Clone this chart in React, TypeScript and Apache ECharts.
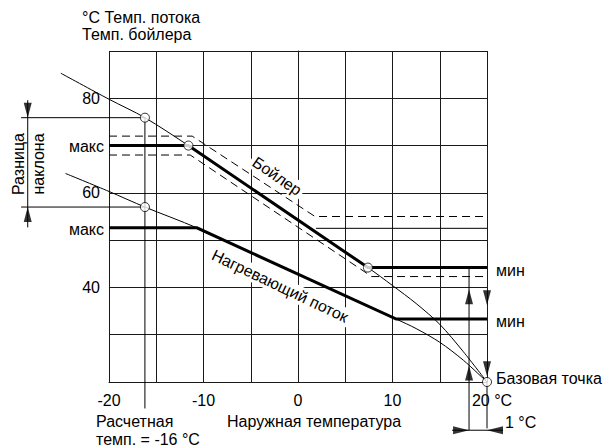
import React, { useEffect, useRef } from 'react';
import * as echarts from 'echarts';

// ---- data (°C outside temperature, °C flow / boiler temperature) ----
const xLabelValues = [-20, -10, 0, 10, 20];
const yLabelValues = [40, 60, 80];

const boilerCurve: [number, number][] = [
  [-25.1, 85.3], [-20, 79.8], [-16.2, 75.9], [-11.6, 70], [-2.1, 57.1], [7.4, 44.2],
  [10, 40.4], [12.5, 36.6], [15, 32.2], [17.5, 26.4], [20, 20],
];
const flowCurve: [number, number][] = [
  [-24.6, 64.1], [-20, 60.3], [-16.2, 57.0], [-10.7, 52.6], [-0.15, 42.95], [10.4, 33.3],
  [12.5, 31.3], [15, 28.4], [17.5, 24.6], [20, 20],
];
const boilerThick: [number, number][] = [[-20, 70], [-11.6, 70], [7.4, 44.2], [20, 44.2]];
const boilerDashHigh: [number, number][] = [[-20, 72], [-11.2, 72], [1.8, 55], [20, 55]];
const boilerDashLow: [number, number][] = [[-20, 68], [-11.4, 68], [7.8, 42.3], [20, 42.3]];
const flowThick: [number, number][] = [[-20, 52.6], [-10.7, 52.6], [10.4, 33.3], [20, 33.3]];
const extraLevel: [number, number][] = [[1.9, 52.5], [20, 52.5]];

const markedPoints: [number, number][] = [[-16.2, 75.9], [-11.6, 70], [7.4, 44.2], [-16.2, 57.0], [20, 20]];

const slopeBar: [number, number][] = [[-28.6, 79.6], [-28.6, 52.7]];
const slopeTop: [number, number][] = [[-29.3, 75.9], [-16.2, 75.9]];
const slopeBottom: [number, number][] = [[-29.3, 57.0], [-16.2, 57.0]];
const designLine: [number, number][] = [[-16.2, 75.9], [-16.2, 14.4]];
const offsetLine: [number, number][] = [[18.1, 44.2], [18.1, 9.8]];
const rightExt: [number, number][] = [[20, 20], [20, 10.2]];
const oneDegLine: [number, number][] = [[16.3, 9.8], [21.7, 9.8]];

const arrowDownTips: [number, number][] = [[-28.6, 75.9], [20, 36.25], [20, 21.2]];
const arrowUpTips: [number, number][] = [[-28.6, 57.0], [18.1, 39.6], [18.1, 23.5]];
const arrowRightTips: [number, number][] = [[18.1, 9.8]];
const arrowLeftTips: [number, number][] = [[20, 9.8]];

const FONT = 'Liberation Sans, Arial, sans-serif';
const FS = 16;

const lineSeries = (pts: [number, number][], width: number, dash: number[] | null = null, smooth = 0) => ({
  type: 'custom',
  data: [pts[0]],
  encode: { x: 0, y: 1 },
  clip: false,
  silent: true,
  z: 3,
  renderItem: (_params: any, api: any) => ({
    type: 'polyline',
    shape: { points: pts.map((p) => api.coord(p)), smooth },
    style: { stroke: '#000', lineWidth: width, fill: 'none', lineDash: dash || undefined },
  }),
});

const arrowSeries = (tips: [number, number][], rotate: number, offset: [number, number], size: [number, number]) => ({
  type: 'scatter',
  data: tips,
  symbol: 'triangle',
  symbolSize: size,
  symbolRotate: rotate,
  symbolOffset: offset,
  clip: false,
  silent: true,
  z: 4,
  itemStyle: { color: '#000' },
});

const txt = (text: string, x: number, y: number, align: string = 'left', rotation = 0, bg = false) => ({
  type: 'text',
  x,
  y,
  rotation,
  z: bg ? 1 : 10,
  silent: true,
  style: {
    text,
    fill: '#000',
    font: `${FS}px ${FONT}`,
    align,
    verticalAlign: 'middle',
    ...(bg ? { backgroundColor: '#fff', padding: [1, 3] } : {}),
  },
});

export default function App() {
  const ref = useRef<HTMLDivElement>(null);
  useEffect(() => {
    document.body.style.margin = '0';
    const chart = echarts.init(ref.current!, null, { renderer: 'svg' });
    const axisLine = { show: true, lineStyle: { color: '#1a1a1a', width: 1 } };
    const split = { show: true, lineStyle: { color: '#1a1a1a', width: 1 } };
    chart.setOption({
      animation: false,
      backgroundColor: '#fff',
      textStyle: { fontFamily: FONT },
      grid: { left: 109, right: 120, top: 51, bottom: 65, outerBoundsMode: 'none' },
      xAxis: {
        type: 'value',
        min: -20,
        max: 20,
        interval: 5,
        axisLine,
        axisTick: { show: false },
        splitLine: split,
        axisLabel: {
          margin: 10,
          color: '#000',
          fontSize: FS,
          fontFamily: FONT,
          formatter: (v: number) => {
            if (!xLabelValues.includes(v)) return '';
            if (v === 20) return '{u|20 °C}';
            return String(v);
          },
          rich: { u: { padding: [0, 0, 0, 10], fontSize: FS, fontFamily: FONT, color: '#000' } },
        },
      },
      yAxis: {
        type: 'value',
        min: 20,
        max: 90,
        interval: 10,
        axisLine,
        axisTick: { show: false },
        splitLine: split,
        axisLabel: {
          margin: 9,
          color: '#000',
          fontSize: FS,
          fontFamily: FONT,
          formatter: (v: number) => (yLabelValues.includes(v) ? String(v) : ''),
        },
      },
      series: [
        lineSeries(boilerCurve, 1, null, 0.3),
        lineSeries(flowCurve, 1, null, 0.3),
        lineSeries(boilerDashHigh, 1, [8, 5]),
        lineSeries(boilerDashLow, 1, [8, 5]),
        lineSeries(extraLevel, 1),
        lineSeries(boilerThick, 3),
        lineSeries(flowThick, 3),
        lineSeries(slopeBar, 1),
        lineSeries(slopeTop, 1),
        lineSeries(slopeBottom, 1),
        lineSeries(designLine, 1),
        lineSeries(offsetLine, 1),
        lineSeries(rightExt, 1),
        lineSeries(oneDegLine, 1),
        arrowSeries(arrowDownTips, 180, [0, -7.5], [8, 15]),
        arrowSeries(arrowUpTips, 0, [0, 7.5], [8, 15]),
        arrowSeries(arrowRightTips, -90, [-8, 0], [8, 16]),
        arrowSeries(arrowLeftTips, 90, [8, 0], [8, 16]),
        {
          type: 'scatter',
          data: markedPoints,
          symbol: 'circle',
          symbolSize: 9,
          clip: false,
          silent: true,
          z: 6,
          itemStyle: { color: '#fff', borderColor: '#000', borderWidth: 1 },
        },
      ],
      graphic: [
        txt('°C Темп. потока', 82, 17),
        txt('Темп. бойлера', 82, 34),
        txt('макс', 104, 146, 'right'),
        txt('макс', 104, 229, 'right'),
        txt('Разница', 18, 164, 'center', Math.PI / 2),
        txt('наклона', 38, 164, 'center', Math.PI / 2),
        txt('Бойлер', 277, 176, 'center', -0.6, true),
        txt('Нагревающий поток', 280, 286, 'center', -0.443, true),
        txt('мин', 496, 270),
        txt('мин', 496, 321),
        txt('Базовая точка', 496, 378),
        txt('Расчетная', 96, 421),
        txt('темп. = -16 °C', 96, 439),
        txt('Наружная температура', 227, 421),
        txt('1 °C', 505, 422),
      ],
    });
    return () => chart.dispose();
  }, []);
  return <div ref={ref} style={{ width: 607, height: 447 }} />;
}
